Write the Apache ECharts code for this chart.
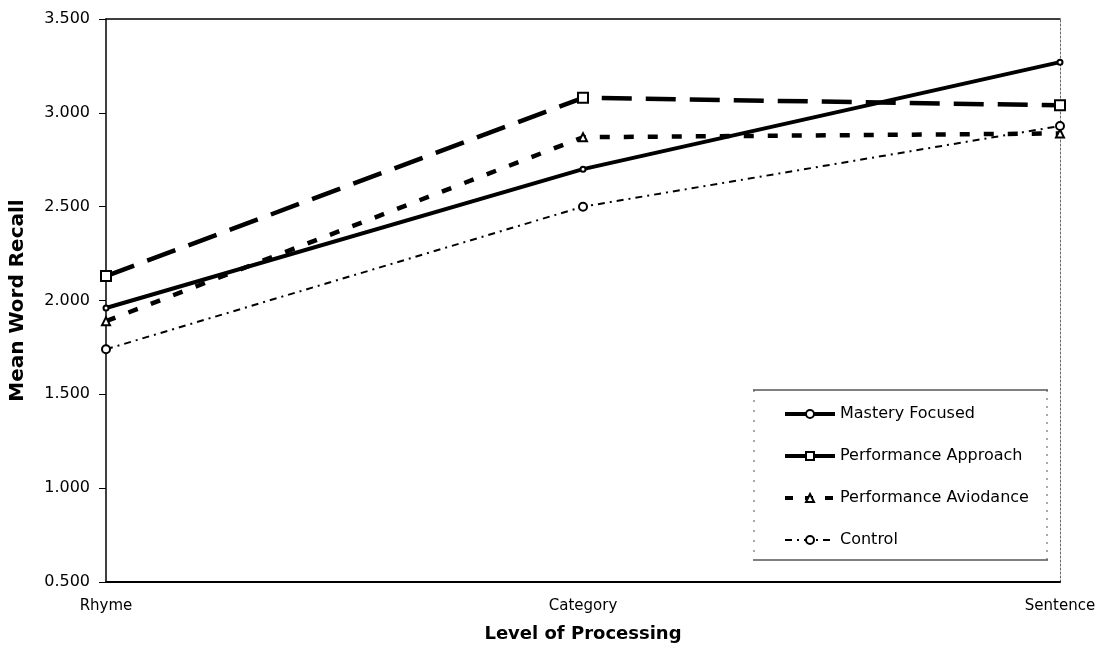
<!DOCTYPE html>
<html>
<head>
<meta charset="utf-8">
<script src="https://cdn.jsdelivr.net/npm/echarts@6/dist/echarts.min.js"></script>
<style>html,body{margin:0;padding:0;background:#fff}#c{width:1103px;height:652px}</style>
</head>
<body>
<div id="c"></div>
<script>
var categories = ['Rhyme', 'Category', 'Sentence'];
var mastery = [1.96, 2.70, 3.27];
var approach = [2.13, 3.08, 3.04];
var avoidance = [1.89, 2.87, 2.89];
var control = [1.74, 2.50, 2.93];
var seriesNames = ['Mastery Focused', 'Performance Approach', 'Performance Aviodance', 'Control'];
var yTicks = {min: 0.5, max: 3.5, interval: 0.5};

var FONT = '"DejaVu Sans", "Liberation Sans", Arial, sans-serif';
var chart = echarts.init(document.getElementById('c'));
chart.setOption({
  animation: false,
  backgroundColor: '#fff',
  textStyle: {fontFamily: FONT, color: '#000'},
  grid: {left: 104, right: 43, top: 19, bottom: 70},
  xAxis: [{
    type: 'category', data: categories, boundaryGap: false,
    axisLine: {lineStyle: {color: '#000', width: 2}},
    axisTick: {show: false},
    axisLabel: {color: '#000', fontSize: 15, margin: 17, fontFamily: FONT},
    name: 'Level of Processing', nameLocation: 'middle', nameGap: 43,
    nameTextStyle: {fontWeight: 'bold', fontSize: 18, color: '#000', fontFamily: FONT},
    splitLine: {show: false}
  }, {
    type: 'category', data: categories, boundaryGap: false, position: 'top',
    axisLine: {lineStyle: {color: '#000', width: 1.5}},
    axisTick: {show: false}, axisLabel: {show: false}, splitLine: {show: false}
  }],
  yAxis: [{
    type: 'value', min: yTicks.min, max: yTicks.max, interval: yTicks.interval,
    axisLine: {show: true, lineStyle: {color: '#000', width: 1.5}},
    axisTick: {show: true, length: 7, lineStyle: {color: '#000'}},
    axisLabel: {color: '#000', fontSize: 16, margin: 16, fontFamily: FONT,
      formatter: function (v) { return v.toFixed(3); }},
    splitLine: {show: false},
    name: 'Mean Word Recall', nameLocation: 'middle', nameGap: 78,
    nameTextStyle: {fontWeight: 'bold', fontSize: 20, color: '#000', fontFamily: FONT}
  }, {
    type: 'value', min: yTicks.min, max: yTicks.max, interval: yTicks.interval, position: 'right',
    axisLine: {show: true, lineStyle: {color: '#666', width: 1, type: [2, 2]}},
    axisTick: {show: false}, axisLabel: {show: false}, splitLine: {show: false}
  }],
  legend: {
    left: 778, top: 401, orient: 'vertical', itemWidth: 50, itemHeight: 10, itemGap: 26,
    textStyle: {fontSize: 16, color: '#000', fontFamily: FONT},
    data: [
      {name: seriesNames[0], lineStyle: {type: 'solid', width: 4}},
      {name: seriesNames[1], lineStyle: {type: 'solid', width: 4}},
      {name: seriesNames[2], lineStyle: {type: [8, 12], width: 4}},
      {name: seriesNames[3], lineStyle: {type: [7, 5, 2, 5], width: 2}}
    ]
  },
  graphic: [
    {type: 'line', shape: {x1: 753, y1: 390, x2: 1048, y2: 390}, style: {stroke: '#000', lineWidth: 1}},
    {type: 'line', shape: {x1: 753, y1: 560, x2: 1048, y2: 560}, style: {stroke: '#000', lineWidth: 1}},
    {type: 'line', shape: {x1: 754, y1: 390, x2: 754, y2: 560}, style: {stroke: '#555', lineWidth: 1, lineDash: [2, 8]}},
    {type: 'line', shape: {x1: 1047, y1: 390, x2: 1047, y2: 560}, style: {stroke: '#555', lineWidth: 1, lineDash: [2, 6]}}
  ],
  series: [
    {name: seriesNames[0], type: 'line', data: mastery,
      symbol: 'emptyCircle', symbolSize: 5,
      lineStyle: {color: '#000', width: 4, type: 'solid'},
      itemStyle: {color: '#000', borderColor: '#000', borderWidth: 1.5}},
    {name: seriesNames[1], type: 'line', data: approach,
      symbol: 'emptyRect', symbolSize: 10,
      lineStyle: {color: '#000', width: 4.5, type: [30, 14]},
      itemStyle: {color: '#000', borderColor: '#000', borderWidth: 2}},
    {name: seriesNames[2], type: 'line', data: avoidance,
      symbol: 'emptyTriangle', symbolSize: 8,
      lineStyle: {color: '#000', width: 4.5, type: [10, 14]},
      itemStyle: {color: '#000', borderColor: '#000', borderWidth: 2}},
    {name: seriesNames[3], type: 'line', data: control,
      symbol: 'emptyCircle', symbolSize: 8,
      lineStyle: {color: '#000', width: 2, type: [7, 5, 2, 5]},
      itemStyle: {color: '#000', borderColor: '#000', borderWidth: 1.8}}
  ]
});
</script>
</body>
</html>
